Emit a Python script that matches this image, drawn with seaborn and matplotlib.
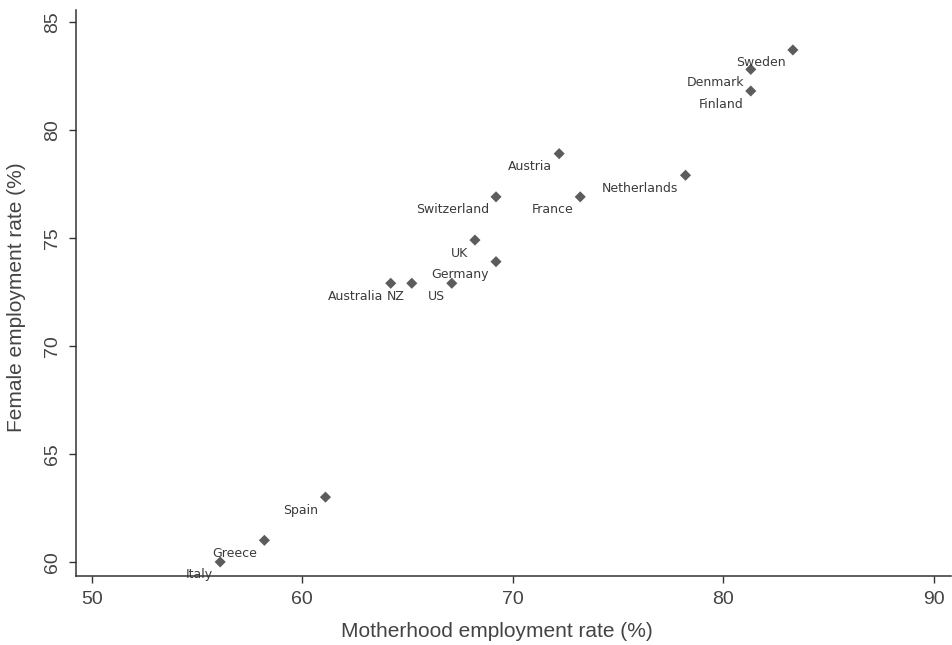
import pandas as pd
import seaborn as sns
import matplotlib.pyplot as plt

# Employment rates
countries = ["Sweden", "Denmark", "Finland", "Netherlands", "Austria",
             "Switzerland", "France", "UK", "Germany", "US", "NZ",
             "Australia", "Spain", "Greece", "Italy"]
motherhood = [83.3, 81.3, 81.3, 78.2, 72.2, 69.2, 73.2, 68.2, 69.2, 67.1,
              65.2, 64.2, 61.1, 58.2, 56.1]
female = [83.7, 82.8, 81.8, 77.9, 78.9, 76.9, 76.9, 74.9, 73.9, 72.9,
          72.9, 72.9, 63.0, 61.0, 60.0]

data = pd.DataFrame({"country": countries,
                     "motherhood": motherhood,
                     "female": female})

sns.set_style("ticks")
plt.rcParams["font.family"] = ["Liberation Sans", "DejaVu Sans"]

fig = plt.figure(figsize=(9.53, 6.45), dpi=100)
ax = fig.add_axes([0.0797, 0.107, 0.918, 0.8775])

sns.scatterplot(data=data, x="motherhood", y="female", marker="D",
                s=32, color="#5c5c5c", edgecolor="none", ax=ax)

# country labels sit below-left of each marker
for name, xv, yv in zip(countries, motherhood, female):
    ax.annotate(name, (xv, yv), xytext=(-7, -13), textcoords="offset pixels",
                ha="right", va="center", fontsize=9, color="#3a3a3a",
                family=["DejaVu Sans"])

ax.set_xlim(49.25, 90.8)
ax.set_ylim(59.35, 85.55)
ax.set_xticks([50, 60, 70, 80, 90])
ax.set_yticks([60, 65, 70, 75, 80, 85])
ax.tick_params(axis="both", labelsize=14, colors="#333333", length=5,
               width=1, pad=6, labelcolor="#444444")
ax.tick_params(axis="y", labelrotation=90)
for lab in ax.get_yticklabels():
    lab.set_va("center")

ax.set_xlabel("Motherhood employment rate (%)", fontsize=15, color="#444444")
ax.set_ylabel("Female employment rate (%)", fontsize=15, color="#444444")
ax.xaxis.set_label_coords(0.481, -0.081)
ax.yaxis.set_label_coords(-0.057, 0.493)

sns.despine(ax=ax)
for side in ["left", "bottom"]:
    ax.spines[side].set_color("#333333")
    ax.spines[side].set_linewidth(1.1)

fig.savefig("out.png", dpi=100, facecolor="white")
